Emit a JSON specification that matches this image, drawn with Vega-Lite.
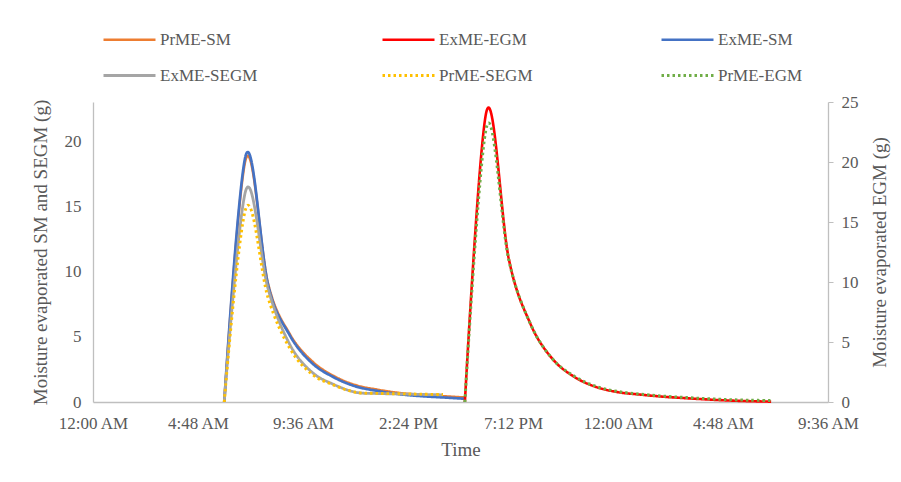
{
  "$schema": "https://vega.github.io/schema/vega-lite/v6.json",
  "width": 735,
  "height": 300,
  "autosize": {"type": "none"},
  "padding": {"left": 93, "top": 102, "right": 73, "bottom": 80},
  "background": "white",
  "config": {
    "font": "Liberation Serif",
    "view": {"stroke": null},
    "axis": {
      "grid": false,
      "ticks": false,
      "domainColor": "#BFBFBF",
      "domainWidth": 1.3,
      "labelFont": "Liberation Serif",
      "labelFontSize": 17,
      "labelColor": "#595959",
      "titleFont": "Liberation Serif",
      "titleFontSize": 19,
      "titleColor": "#595959",
      "titleFontWeight": "normal"
    },
    "legend": {
      "labelFont": "Liberation Serif",
      "labelFontSize": 17,
      "labelColor": "#595959"
    }
  },
  "data": {
    "values": [
      {"series": "PrME-SM", "time": "2020-01-01T06:00", "value": 0},
      {"series": "PrME-SM", "time": "2020-01-01T07:00", "value": 18.7},
      {"series": "PrME-SM", "time": "2020-01-01T08:00", "value": 9.1},
      {"series": "PrME-SM", "time": "2020-01-01T09:00", "value": 5.2},
      {"series": "PrME-SM", "time": "2020-01-01T10:00", "value": 3.15},
      {"series": "PrME-SM", "time": "2020-01-01T11:00", "value": 2.0},
      {"series": "PrME-SM", "time": "2020-01-01T12:00", "value": 1.3},
      {"series": "PrME-SM", "time": "2020-01-01T13:00", "value": 0.95},
      {"series": "PrME-SM", "time": "2020-01-01T14:00", "value": 0.7},
      {"series": "PrME-SM", "time": "2020-01-01T15:00", "value": 0.55},
      {"series": "PrME-SM", "time": "2020-01-01T16:00", "value": 0.45},
      {"series": "PrME-SM", "time": "2020-01-01T17:00", "value": 0.35},
      {"series": "ExME-SM", "time": "2020-01-01T06:00", "value": 0},
      {"series": "ExME-SM", "time": "2020-01-01T07:00", "value": 19.0},
      {"series": "ExME-SM", "time": "2020-01-01T08:00", "value": 9.0},
      {"series": "ExME-SM", "time": "2020-01-01T09:00", "value": 5.1},
      {"series": "ExME-SM", "time": "2020-01-01T10:00", "value": 3.0},
      {"series": "ExME-SM", "time": "2020-01-01T11:00", "value": 1.9},
      {"series": "ExME-SM", "time": "2020-01-01T12:00", "value": 1.2},
      {"series": "ExME-SM", "time": "2020-01-01T13:00", "value": 0.85},
      {"series": "ExME-SM", "time": "2020-01-01T14:00", "value": 0.6},
      {"series": "ExME-SM", "time": "2020-01-01T15:00", "value": 0.45},
      {"series": "ExME-SM", "time": "2020-01-01T16:00", "value": 0.35},
      {"series": "ExME-SM", "time": "2020-01-01T17:00", "value": 0.25},
      {"series": "ExME-SEGM", "time": "2020-01-01T06:00", "value": 0},
      {"series": "ExME-SEGM", "time": "2020-01-01T07:00", "value": 16.3},
      {"series": "ExME-SEGM", "time": "2020-01-01T08:00", "value": 8.7},
      {"series": "ExME-SEGM", "time": "2020-01-01T09:00", "value": 4.4},
      {"series": "ExME-SEGM", "time": "2020-01-01T10:00", "value": 2.3},
      {"series": "ExME-SEGM", "time": "2020-01-01T11:00", "value": 1.35},
      {"series": "ExME-SEGM", "time": "2020-01-01T12:00", "value": 0.75},
      {"series": "ExME-SEGM", "time": "2020-01-01T13:00", "value": 0.65},
      {"series": "ExME-SEGM", "time": "2020-01-01T14:00", "value": 0.62},
      {"series": "ExME-SEGM", "time": "2020-01-01T15:00", "value": 0.58},
      {"series": "ExME-SEGM", "time": "2020-01-01T16:00", "value": 0.55},
      {"series": "PrME-SEGM", "time": "2020-01-01T06:00", "value": 0},
      {"series": "PrME-SEGM", "time": "2020-01-01T07:00", "value": 14.9},
      {"series": "PrME-SEGM", "time": "2020-01-01T08:00", "value": 8.0},
      {"series": "PrME-SEGM", "time": "2020-01-01T09:00", "value": 4.1},
      {"series": "PrME-SEGM", "time": "2020-01-01T10:00", "value": 2.15},
      {"series": "PrME-SEGM", "time": "2020-01-01T11:00", "value": 1.3},
      {"series": "PrME-SEGM", "time": "2020-01-01T12:00", "value": 0.75},
      {"series": "PrME-SEGM", "time": "2020-01-01T13:00", "value": 0.66},
      {"series": "PrME-SEGM", "time": "2020-01-01T14:00", "value": 0.63},
      {"series": "PrME-SEGM", "time": "2020-01-01T15:00", "value": 0.6},
      {"series": "PrME-SEGM", "time": "2020-01-01T16:00", "value": 0.57},
      {"series": "ExME-EGM", "time": "2020-01-01T17:00", "value": 0},
      {"series": "ExME-EGM", "time": "2020-01-01T18:00", "value": 24.3},
      {"series": "ExME-EGM", "time": "2020-01-01T19:00", "value": 12.0},
      {"series": "ExME-EGM", "time": "2020-01-01T20:00", "value": 6.5},
      {"series": "ExME-EGM", "time": "2020-01-01T21:00", "value": 3.6},
      {"series": "ExME-EGM", "time": "2020-01-01T22:00", "value": 2.1},
      {"series": "ExME-EGM", "time": "2020-01-01T23:00", "value": 1.25},
      {"series": "ExME-EGM", "time": "2020-01-02T00:00", "value": 0.82},
      {"series": "ExME-EGM", "time": "2020-01-02T01:00", "value": 0.62},
      {"series": "ExME-EGM", "time": "2020-01-02T02:00", "value": 0.45},
      {"series": "ExME-EGM", "time": "2020-01-02T03:00", "value": 0.33},
      {"series": "ExME-EGM", "time": "2020-01-02T04:00", "value": 0.22},
      {"series": "ExME-EGM", "time": "2020-01-02T05:00", "value": 0.13},
      {"series": "ExME-EGM", "time": "2020-01-02T06:00", "value": 0.07},
      {"series": "ExME-EGM", "time": "2020-01-02T07:00", "value": 0.03},
      {"series": "PrME-EGM", "time": "2020-01-01T17:00", "value": 0},
      {"series": "PrME-EGM", "time": "2020-01-01T18:00", "value": 23.0},
      {"series": "PrME-EGM", "time": "2020-01-01T19:00", "value": 11.9},
      {"series": "PrME-EGM", "time": "2020-01-01T20:00", "value": 6.5},
      {"series": "PrME-EGM", "time": "2020-01-01T21:00", "value": 3.6},
      {"series": "PrME-EGM", "time": "2020-01-01T22:00", "value": 2.15},
      {"series": "PrME-EGM", "time": "2020-01-01T23:00", "value": 1.3},
      {"series": "PrME-EGM", "time": "2020-01-02T00:00", "value": 0.87},
      {"series": "PrME-EGM", "time": "2020-01-02T01:00", "value": 0.66},
      {"series": "PrME-EGM", "time": "2020-01-02T02:00", "value": 0.5},
      {"series": "PrME-EGM", "time": "2020-01-02T03:00", "value": 0.38},
      {"series": "PrME-EGM", "time": "2020-01-02T04:00", "value": 0.28},
      {"series": "PrME-EGM", "time": "2020-01-02T05:00", "value": 0.2},
      {"series": "PrME-EGM", "time": "2020-01-02T06:00", "value": 0.15},
      {"series": "PrME-EGM", "time": "2020-01-02T07:00", "value": 0.12}
    ]
  },
  "encoding": {
    "x": {
      "field": "time",
      "type": "temporal",
      "title": "Time",
      "scale": {
        "domain": [
          {"year": 2020, "month": 1, "date": 1, "hours": 0, "minutes": 0},
          {"year": 2020, "month": 1, "date": 2, "hours": 9, "minutes": 36}
        ],
        "nice": false
      },
      "axis": {
        "values": [
          {"year": 2020, "month": 1, "date": 1, "hours": 0, "minutes": 0},
          {"year": 2020, "month": 1, "date": 1, "hours": 4, "minutes": 48},
          {"year": 2020, "month": 1, "date": 1, "hours": 9, "minutes": 36},
          {"year": 2020, "month": 1, "date": 1, "hours": 14, "minutes": 24},
          {"year": 2020, "month": 1, "date": 1, "hours": 19, "minutes": 12},
          {"year": 2020, "month": 1, "date": 2, "hours": 0, "minutes": 0},
          {"year": 2020, "month": 1, "date": 2, "hours": 4, "minutes": 48},
          {"year": 2020, "month": 1, "date": 2, "hours": 9, "minutes": 36}
        ],
        "format": "%-I:%M %p",
        "labelFlush": false,
        "labelOverlap": false,
        "labelPadding": 13,
        "titlePadding": 9
      }
    },
    "color": {
      "field": "series",
      "type": "nominal",
      "scale": {
        "domain": ["PrME-SM", "ExME-EGM", "ExME-SM", "ExME-SEGM", "PrME-SEGM", "PrME-EGM"],
        "range": ["#ED7D31", "#FF0000", "#4472C4", "#A5A5A5", "#FFC000", "#70AD47"]
      },
      "legend": {
        "title": null,
        "orient": "none",
        "direction": "horizontal",
        "legendX": 9,
        "legendY": -90,
        "columns": 3,
        "gridAlign": "all",
        "columnPadding": 118,
        "rowPadding": -13,
        "symbolType": "stroke",
        "symbolSize": 2704,
        "symbolStrokeWidth": 3,
        "labelOffset": 3,
        "labelLimit": 300,
        "padding": 0
      }
    },
    "strokeDash": {
      "field": "series",
      "type": "nominal",
      "scale": {
        "domain": ["PrME-SM", "ExME-EGM", "ExME-SM", "ExME-SEGM", "PrME-SEGM", "PrME-EGM"],
        "range": [[1, 0], [1, 0], [1, 0], [1, 0], [2.5, 3], [2.5, 3]]
      },
      "legend": {
        "title": null,
        "orient": "none",
        "direction": "horizontal",
        "legendX": 9,
        "legendY": -90,
        "columns": 3,
        "gridAlign": "all",
        "columnPadding": 118,
        "rowPadding": -13,
        "symbolType": "stroke",
        "symbolSize": 2704,
        "symbolStrokeWidth": 3,
        "labelOffset": 3,
        "labelLimit": 300,
        "padding": 0
      }
    },
    "strokeWidth": {
      "field": "series",
      "type": "nominal",
      "scale": {
        "domain": ["PrME-SM", "ExME-EGM", "ExME-SM", "ExME-SEGM", "PrME-SEGM", "PrME-EGM"],
        "range": [2.5, 3, 3.5, 3, 2.5, 2.5]
      },
      "legend": null
    }
  },
  "layer": [
    {
      "transform": [{"filter": {"field": "series", "oneOf": ["PrME-SM", "ExME-SM", "ExME-SEGM", "PrME-SEGM"]}}],
      "mark": {"type": "line", "interpolate": "cardinal", "strokeCap": "butt"},
      "encoding": {
        "y": {
          "field": "value",
          "type": "quantitative",
          "scale": {"domain": [0, 23], "nice": false},
          "axis": {
            "title": "Moisture evaporated SM and SEGM (g)",
            "values": [0, 5, 10, 15, 20],
            "labelPadding": 12,
            "titlePadding": 14
          }
        }
      }
    },
    {
      "transform": [{"filter": {"field": "series", "oneOf": ["ExME-EGM", "PrME-EGM"]}}],
      "mark": {"type": "line", "interpolate": "cardinal", "strokeCap": "butt"},
      "encoding": {
        "y": {
          "field": "value",
          "type": "quantitative",
          "scale": {"domain": [0, 25], "nice": false},
          "axis": {
            "orient": "right",
            "title": "Moisture evaporated EGM (g)",
            "titleAngle": 270,
            "values": [0, 5, 10, 15, 20, 25],
            "ticks": true,
            "tickSize": 5,
            "tickColor": "#BFBFBF",
            "labelPadding": 8,
            "titlePadding": 31
          }
        }
      }
    }
  ],
  "resolve": {"scale": {"y": "independent"}}
}
